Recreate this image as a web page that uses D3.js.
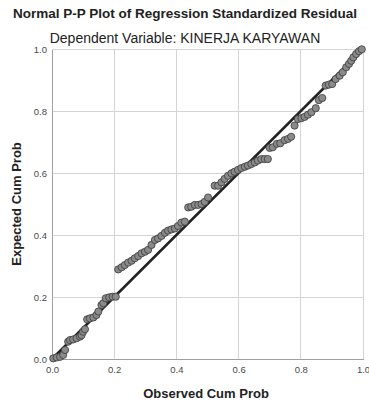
<!DOCTYPE html>
<html>
<head>
<meta charset="utf-8">
<script src="https://cdn.jsdelivr.net/npm/d3@7"></script>
<style>
  html, body { margin: 0; padding: 0; background: #fff; }
  svg { display: block; }
  text { font-family: "Liberation Sans", Arial, sans-serif; }
</style>
</head>
<body>
<svg id="chart" width="369" height="404"></svg>
<script>
const title = "Normal P-P Plot of Regression Standardized Residual";
const subtitle = "Dependent Variable: KINERJA KARYAWAN";
const xTitle = "Observed Cum Prob";
const yTitle = "Expected Cum Prob";
const tickValues = [0, 0.2, 0.4, 0.6, 0.8, 1.0];
const tickLabels = ["0.0", "0.2", "0.4", "0.6", "0.8", "1.0"];

const observed = [
  0.004,0.015,0.026,0.036,0.042,0.052,0.058,0.068,0.079,0.090,0.095,0.100,0.106,0.113,0.122,0.133,0.143,0.149,0.159,0.165,0.173,0.184,0.195,0.205,
  0.213,0.224,0.234,0.245,0.256,0.266,0.277,0.288,0.299,0.309,0.320,0.331,0.341,0.352,0.363,0.373,0.384,0.395,0.405,0.416,0.427,
  0.438,0.448,0.459,0.470,0.481,0.491,0.502,
  0.523,0.534,0.545,0.555,0.566,0.577,0.587,0.598,0.609,0.620,0.630,0.641,0.652,0.662,0.673,0.684,0.694,
  0.700,0.710,0.723,0.734,0.748,0.759,0.769,
  0.780,0.791,0.802,0.812,0.823,0.834,0.848,
  0.858,0.869,
  0.880,0.890,0.901,0.912,0.925,0.935,0.946,0.955,0.962,0.969,0.978,0.987,0.996
];
const expected = [
  0.002,0.005,0.007,0.013,0.029,0.056,0.061,0.063,0.067,0.072,0.077,0.088,0.096,0.128,0.131,0.134,0.142,0.153,0.174,0.180,0.196,0.199,0.201,0.201,
  0.289,0.296,0.303,0.311,0.317,0.325,0.332,0.341,0.346,0.352,0.368,0.384,0.389,0.397,0.407,0.414,0.418,0.421,0.429,0.440,0.443,
  0.489,0.491,0.497,0.497,0.500,0.507,0.521,
  0.559,0.559,0.570,0.581,0.591,0.599,0.604,0.610,0.616,0.620,0.624,0.629,0.634,0.640,0.645,0.645,0.645,
  0.681,0.683,0.694,0.696,0.706,0.710,0.717,
  0.753,0.774,0.777,0.781,0.788,0.796,0.809,
  0.835,0.842,
  0.882,0.885,0.887,0.903,0.914,0.925,0.941,0.952,0.962,0.973,0.984,0.993,0.999
];

const svg = d3.select("#chart");
const x = d3.scaleLinear().domain([0, 1]).range([52, 363]);
const y = d3.scaleLinear().domain([0, 1]).range([359, 49]);

// gridlines
const grid = svg.append("g");
grid.selectAll("line.vx").data(tickValues.slice(1)).enter().append("line")
  .attr("x1", d => x(d)).attr("x2", d => x(d))
  .attr("y1", y(0)).attr("y2", y(1))
  .attr("stroke", "#d4d4d4").attr("stroke-width", 1).attr("shape-rendering", "crispEdges");
grid.selectAll("line.hy").data(tickValues.slice(1)).enter().append("line")
  .attr("x1", x(0)).attr("x2", x(1))
  .attr("y1", d => y(d)).attr("y2", d => y(d))
  .attr("stroke", "#d4d4d4").attr("stroke-width", 1).attr("shape-rendering", "crispEdges");

// axes
const xAxis = d3.axisBottom(x).tickValues(tickValues).tickFormat((d, i) => tickLabels[i]).tickSize(0).tickPadding(7);
const yAxis = d3.axisLeft(y).tickValues(tickValues).tickFormat((d, i) => tickLabels[i]).tickSize(0).tickPadding(5);
const gx = svg.append("g").attr("transform", `translate(0,${y(0)})`).call(xAxis);
const gy = svg.append("g").attr("transform", `translate(${x(0)},0)`).call(yAxis);
[gx, gy].forEach(g => {
  g.select(".domain").attr("stroke", "#a0a0a0").attr("stroke-width", 1).attr("shape-rendering", "crispEdges");
  g.selectAll("text").attr("fill", "#4a4a4a").style("font-size", "9.5px").style("font-family", '"Liberation Sans", Arial, sans-serif');
});

// diagonal reference line
svg.append("line")
  .attr("x1", x(0)).attr("y1", y(0)).attr("x2", x(1)).attr("y2", y(1))
  .attr("stroke", "#222").attr("stroke-width", 2.5);

// points
const pts = observed.map((o, i) => ({o, e: expected[i]}));
svg.append("g").selectAll("circle").data(pts).enter().append("circle")
  .attr("cx", d => x(d.o)).attr("cy", d => y(d.e)).attr("r", 3.6)
  .attr("fill", "#8a8a8a").attr("stroke", "#3a3a3a").attr("stroke-width", 0.8);

// titles
svg.append("text").attr("x", 185).attr("y", 18).attr("text-anchor", "middle")
  .style("font-size", "13.5px").style("font-weight", "bold").attr("fill", "#222").text(title);
svg.append("text").attr("x", 185).attr("y", 43).attr("text-anchor", "middle")
  .style("font-size", "14px").attr("fill", "#222").text(subtitle);
svg.append("text").attr("x", 206).attr("y", 398).attr("text-anchor", "middle")
  .style("font-size", "13px").style("font-weight", "bold").attr("fill", "#222").text(xTitle);
svg.append("text").attr("transform", "translate(21,204) rotate(-90)").attr("text-anchor", "middle")
  .style("font-size", "13px").style("font-weight", "bold").attr("fill", "#222").text(yTitle);
</script>
</body>
</html>
